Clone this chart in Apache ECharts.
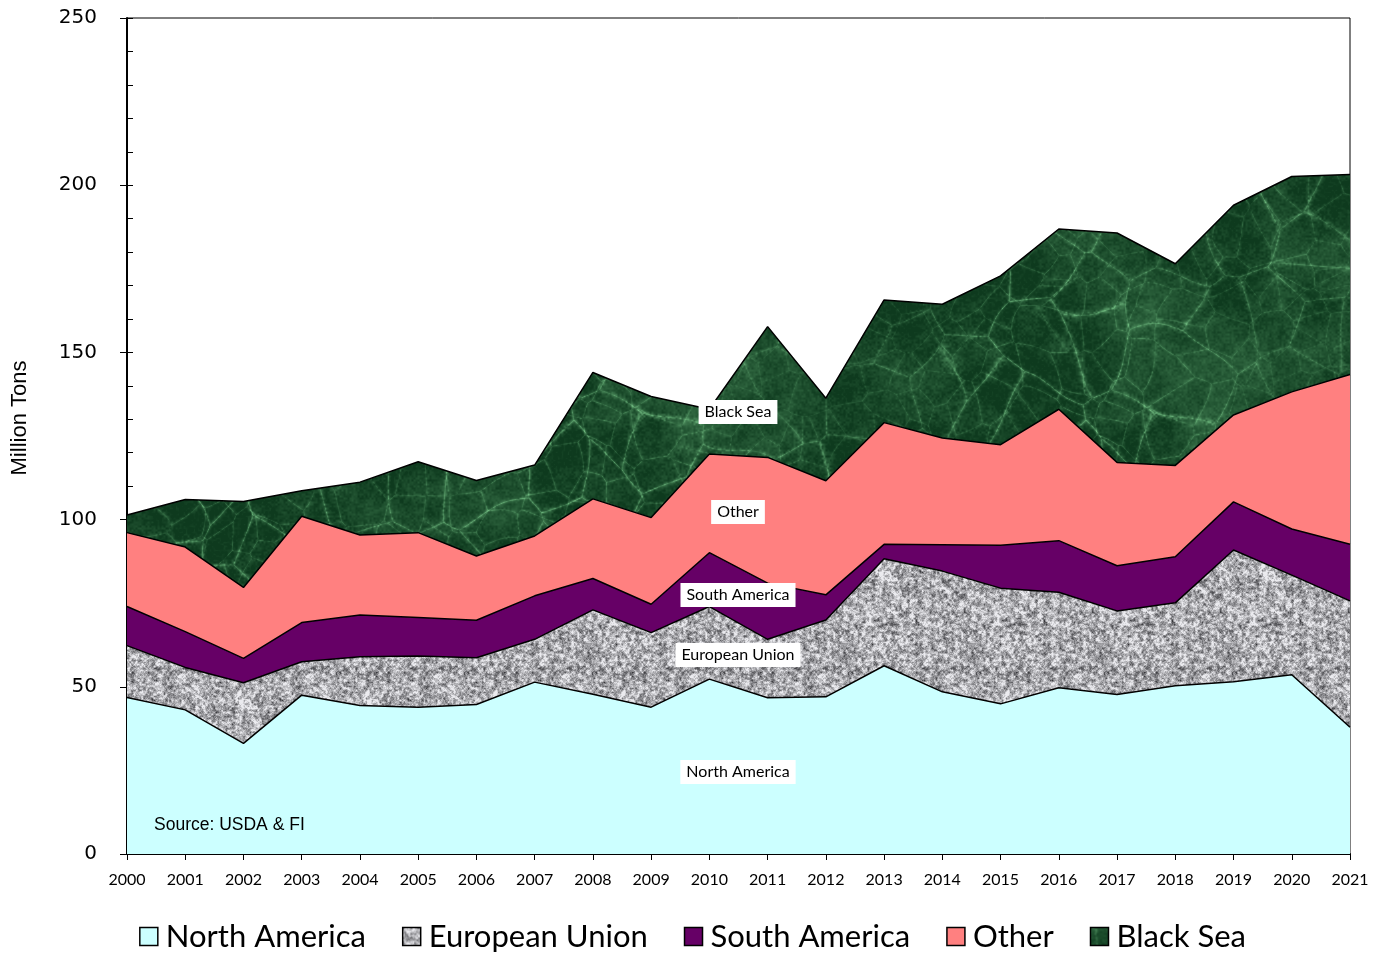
<!DOCTYPE html>
<html>
<head>
<meta charset="utf-8">
<script src="https://cdn.jsdelivr.net/npm/echarts@6/dist/echarts.min.js"></script>
<style>
  html, body { margin: 0; padding: 0; background: #fff; }
  #chart { width: 1385px; height: 953px; }
</style>
</head>
<body>
<div id="chart"></div>
<script>
const years = ['2000', '2001', '2002', '2003', '2004', '2005', '2006', '2007', '2008', '2009', '2010',
  '2011', '2012', '2013', '2014', '2015', '2016', '2017', '2018', '2019', '2020', '2021']

// million tons
const northAmerica = [46.8, 43.1, 33.1, 47.5, 44.4, 43.9, 44.7, 51.4, 47.8, 43.9, 52.3,
  46.7, 47.0, 56.3, 48.5, 44.9, 49.7, 47.7, 50.3, 51.5, 53.6, 37.9]
const europeanUnion = [15.5, 12.7, 18.1, 10.0, 14.6, 15.3, 14.0, 12.8, 25.2, 22.3, 21.7,
  17.5, 23.0, 32.0, 36.1, 34.6, 28.6, 25.0, 24.8, 39.4, 29.8, 37.8]
const southAmerica = [11.7, 10.7, 7.3, 11.7, 12.5, 11.5, 11.2, 13.0, 9.4, 8.5, 16.1,
  16.8, 7.5, 4.3, 7.9, 12.8, 15.4, 13.5, 13.8, 14.4, 13.8, 16.9]
const other = [22.1, 25.3, 21.2, 31.8, 23.9, 25.4, 19.2, 17.9, 23.8, 25.9, 29.5,
  37.6, 34.1, 36.4, 31.9, 30.1, 39.3, 30.9, 27.3, 26.0, 41.0, 50.8]
const blackSea = [5.3, 14.2, 25.7, 7.6, 15.8, 21.2, 22.6, 21.2, 37.8, 36.2, 13.4,
  39.1, 24.7, 36.7, 40.0, 50.5, 53.9, 68.6, 60.3, 62.7, 64.4, 59.8]

const seriesNames = ['North America', 'European Union', 'South America', 'Other', 'Black Sea']
const yTicks = [0, 50, 100, 150, 200, 250]

// --- fill textures (granite / green marble), seeded so every run looks the same
function rng(seed) {
  let s = seed >>> 0
  return () => {
    s = (s * 1664525 + 1013904223) >>> 0
    return s / 4294967296
  }
}
function valueNoise(size, cell, rand) {
  const n = Math.max(1, Math.round(size / cell))
  const g = []
  for (let i = 0; i < n * n; i++) g.push(rand())
  return (x, y) => {
    const fx = x / cell, fy = y / cell
    const x0 = Math.floor(fx), y0 = Math.floor(fy)
    let tx = fx - x0, ty = fy - y0
    tx = tx * tx * (3 - 2 * tx)
    ty = ty * ty * (3 - 2 * ty)
    const xa = ((x0 % n) + n) % n, xb = (xa + 1) % n
    const ya = ((y0 % n) + n) % n, yb = (ya + 1) % n
    const a = g[ya * n + xa], b = g[ya * n + xb], c = g[yb * n + xa], d = g[yb * n + xb]
    return (a + (b - a) * tx) * (1 - ty) + (c + (d - c) * tx) * ty
  }
}
// cell-edge (crackle) noise, gives the vein network of the marble
function crackle(size, cell, rand) {
  const n = Math.round(size / cell)
  const pts = []
  for (let i = 0; i < n * n; i++) pts.push([rand(), rand()])
  return (x, y) => {
    const cx = Math.floor(x / cell), cy = Math.floor(y / cell)
    let f1 = 1e9, f2 = 1e9
    for (let dy = -1; dy <= 1; dy++) {
      for (let dx = -1; dx <= 1; dx++) {
        const gx = cx + dx, gy = cy + dy
        const p = pts[(((gy % n) + n) % n) * n + (((gx % n) + n) % n)]
        const px = (gx + p[0]) * cell, py = (gy + p[1]) * cell
        const d = Math.hypot(px - x, py - y)
        if (d < f1) { f2 = f1; f1 = d } else if (d < f2) f2 = d
      }
    }
    return f2 - f1
  }
}
function granite() {
  const size = 128
  const cv = document.createElement('canvas')
  cv.width = cv.height = size
  const ctx = cv.getContext('2d')
  const img = ctx.createImageData(size, size)
  const r = rng(7)
  const n1 = valueNoise(size, 2, r), n2 = valueNoise(size, 4, r), n3 = valueNoise(size, 1, r)
  for (let y = 0; y < size; y++) {
    for (let x = 0; x < size; x++) {
      const v = 0.45 * n1(x, y) + 0.35 * n2(x, y) + 0.2 * n3(x, y)
      let g = 170 + (v - 0.5) * 270
      g = Math.max(50, Math.min(235, g))
      const i = (y * size + x) * 4
      img.data[i] = g; img.data[i + 1] = g; img.data[i + 2] = g + 4; img.data[i + 3] = 255
    }
  }
  ctx.putImageData(img, 0, 0)
  return cv
}
function marble() {
  const size = 512
  const cv = document.createElement('canvas')
  cv.width = cv.height = size
  const ctx = cv.getContext('2d')
  const img = ctx.createImageData(size, size)
  const r = rng(21)
  const oct = [128, 64, 32, 16, 8, 4, 2].map(c => valueNoise(size, c, r))
  const w = [0.28, 0.22, 0.17, 0.12, 0.09, 0.07, 0.05]
  const wx = valueNoise(size, 64, r), wy = valueNoise(size, 64, r)
  const c1 = crackle(size, 64, r), c2 = crackle(size, 32, r)
  const fade = valueNoise(size, 128, r)
  for (let y = 0; y < size; y++) {
    for (let x = 0; x < size; x++) {
      let t = 0
      for (let k = 0; k < oct.length; k++) t += w[k] * oct[k](x, y)
      const ux = x + (wx(x, y) - 0.5) * 30, uy = y + (wy(x, y) - 0.5) * 30
      const e1 = Math.exp(-c1(ux, uy) / 2.2)
      const e2 = Math.exp(-c2(ux, uy) / 1.6)
      const fine = oct[6](x, y)
      const vein = (e1 * 0.75 + e2 * 0.4) * (0.35 + fade(x, y) * 0.9) * (0.5 + fine * 0.7)
      const mott = Math.max(0, Math.min(1, (t - 0.38) * 2.0))
      const m = Math.max(0, Math.min(1, mott * 0.45 + vein * 0.7 + (fine - 0.5) * 0.12))
      const i = (y * size + x) * 4
      img.data[i] = 14 + m * 95
      img.data[i + 1] = 58 + m * 125
      img.data[i + 2] = 30 + m * 95
      img.data[i + 3] = 255
    }
  }
  ctx.putImageData(img, 0, 0)
  return cv
}

const fills = {
  'North America': '#ccffff',
  'European Union': { image: granite(), repeat: 'repeat' },
  'South America': '#660066',
  'Other': '#ff8080',
  'Black Sea': { image: marble(), repeat: 'repeat' }
}
const values = {
  'North America': northAmerica,
  'European Union': europeanUnion,
  'South America': southAmerica,
  'Other': other,
  'Black Sea': blackSea
}

const chart = echarts.init(document.getElementById('chart'))

const labelBox = (text, y) => ({
  type: 'text',
  x: 738,
  y: y,
  z: 100,
  style: {
    text: text,
    fontFamily: 'Lato',
    fontSize: 16,
    fill: '#000',
    align: 'center',
    verticalAlign: 'middle',
    backgroundColor: '#fff',
    padding: [4, 6, 4, 6]
  }
})

const option = {
  backgroundColor: '#fff',
  animation: false,
  grid: {
    left: 127,
    right: 35,
    top: 18,
    bottom: 99,
    show: true,
    borderColor: '#000',
    borderWidth: 1
  },
  legend: {
    bottom: -4,
    left: 'center',
    itemWidth: 18,
    itemHeight: 18,
    itemGap: 36,
    icon: 'rect',
    textStyle: { fontFamily: 'Lato', fontSize: 31, color: '#000', padding: [0, 0, 0, 3] },
    data: seriesNames.map(n => ({
      name: n,
      icon: 'rect',
      itemStyle: { color: fills[n], borderColor: '#000', borderWidth: 1.5 }
    }))
  },
  xAxis: {
    type: 'category',
    data: years,
    boundaryGap: false,
    axisLine: { lineStyle: { color: '#000', width: 2 } },
    axisTick: { show: true, length: 6, lineStyle: { color: '#000', width: 1 } },
    axisLabel: { fontFamily: 'Lato', fontSize: 16, color: '#000', margin: 18, interval: 0 },
    splitLine: { show: false }
  },
  yAxis: [
    {
      type: 'value',
      min: yTicks[0],
      max: yTicks[yTicks.length - 1],
      interval: 50,
      position: 'left',
      axisLine: { show: true, lineStyle: { color: '#000', width: 2 } },
      axisTick: { show: true, length: 7, lineStyle: { color: '#000', width: 1 } },
      axisLabel: { fontFamily: 'DejaVu Sans', fontSize: 20, color: '#000', margin: 30 },
      splitLine: { show: false }
    },
    {
      type: 'value',
      min: yTicks[0],
      max: yTicks[yTicks.length - 1],
      interval: 10,
      position: 'left',
      axisLine: { show: false },
      axisTick: { show: true, inside: true, length: 6, lineStyle: { color: '#000', width: 1 } },
      axisLabel: { show: false },
      splitLine: { show: false }
    }
  ],
  series: seriesNames.map(n => ({
    name: n,
    type: 'line',
    stack: 'total',
    data: values[n],
    symbol: 'none',
    lineStyle: { color: '#000', width: 1.5 },
    itemStyle: { color: fills[n] },
    areaStyle: { color: fills[n], opacity: 1 },
    emphasis: { disabled: true }
  })),
  graphic: [
    {
      type: 'text',
      x: 20,
      y: 418,
      rotation: Math.PI / 2,
      style: {
        text: 'Million Tons',
        fontFamily: 'Liberation Sans',
        fontSize: 22,
        fill: '#000',
        align: 'center',
        verticalAlign: 'middle'
      }
    },
    {
      type: 'text',
      x: 154,
      y: 825,
      z: 100,
      style: {
        text: 'Source: USDA & FI',
        fontFamily: 'Liberation Sans',
        fontSize: 17.5,
        fill: '#000',
        verticalAlign: 'middle'
      }
    },
    labelBox('Black Sea', 412),
    labelBox('Other', 512),
    labelBox('South America', 595),
    labelBox('European Union', 655),
    labelBox('North America', 772)
  ]
}

chart.setOption(option)
</script>
</body>
</html>
